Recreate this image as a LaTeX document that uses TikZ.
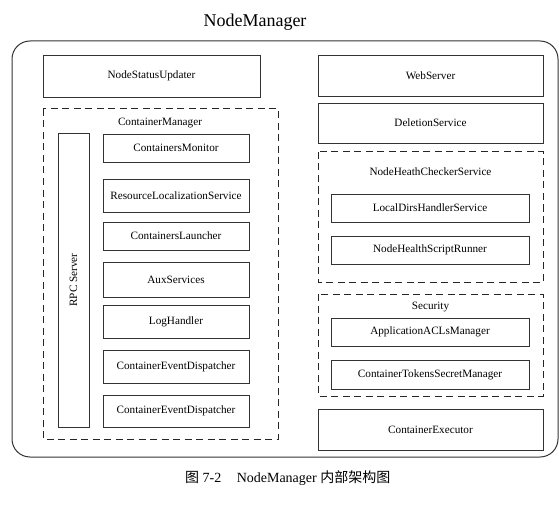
\documentclass[tikz,border=0pt]{standalone}
\usepackage{fontspec}
\setmainfont{Liberation Serif}
\newfontfamily\cjk{Noto Sans CJK SC}
\begin{document}
\begin{tikzpicture}[x=1pt,y=-1pt,
  line/.style={draw=black!80, line width=0.8pt},
  box/.style={line, rectangle, inner sep=0pt, font=\fontsize{11.2}{13}\selectfont},
  grp/.style={draw=black!85, line width=1pt, dash pattern=on 7pt off 4.5pt},
  lbl/.style={inner sep=0pt, font=\fontsize{11.2}{13}\selectfont}]
\useasboundingbox (0,0) rectangle (559,505);
% title
\node[inner sep=0pt, font=\fontsize{18}{20}\selectfont] (title) at (255,22) {NodeManager};
% outer
\draw[line, line width=1pt, rounded corners=18pt] (12,41) rectangle (558,457);
% left column
\node[box, minimum width=217pt, minimum height=42pt] (nsu) at (151.5,76) {NodeStatusUpdater};
\draw[grp] (43,109) rectangle (278,439);
\node[lbl] (cmt) at (160,123) {ContainerManager};
\node[box, minimum width=31pt, minimum height=294pt] (rpc) at (73.5,280) {};
\node[lbl, rotate=90] (rpct) at (rpc.center) {RPC Server};
\node[box, minimum width=146pt, minimum height=28pt] (cmon) at (176,148) {ContainersMonitor};
\node[box, minimum width=146pt, minimum height=33pt] (rls) at (176,195.5) {ResourceLocalizationService};
\node[box, minimum width=146pt, minimum height=28pt] (cl) at (176,236) {ContainersLauncher};
\node[box, minimum width=146pt, minimum height=35pt] (aux) at (176,279.5) {AuxServices};
\node[box, minimum width=146pt, minimum height=33pt] (lh) at (176,321.5) {LogHandler};
\node[box, minimum width=146pt, minimum height=33pt] (ced1) at (176,366.5) {ContainerEventDispatcher};
\node[box, minimum width=146pt, minimum height=32pt] (ced2) at (176,411) {ContainerEventDispatcher};
% right column
\node[box, minimum width=225pt, minimum height=41pt] (ws) at (430.5,75.5) {WebServer};
\node[box, minimum width=225pt, minimum height=40pt] (ds) at (430.5,123) {DeletionService};
\draw[grp] (318,152) rectangle (543,282);
\node[lbl] (nhcst) at (430.5,172) {NodeHeathCheckerService};
\node[box, minimum width=198pt, minimum height=28pt] (ldhs) at (430,208) {LocalDirsHandlerService};
\node[box, minimum width=198pt, minimum height=28pt] (nhsr) at (430,250) {NodeHealthScriptRunner};
\draw[grp] (318,294) rectangle (543,396);
\node[lbl] (sect) at (430.5,307) {Security};
\node[box, minimum width=198pt, minimum height=28pt] (aacl) at (430,332) {ApplicationACLsManager};
\node[box, minimum width=198pt, minimum height=29pt] (ctsm) at (430,374.5) {ContainerTokensSecretManager};
\node[box, minimum width=225pt, minimum height=41pt] (ce) at (430.5,429.5) {ContainerExecutor};
% caption
\node[inner sep=0pt, anchor=west, font=\fontsize{14}{16}\selectfont] (cap) at (185,478) {{\cjk 图} 7-2\hspace{1.1em}NodeManager {\cjk 内部架构图}};
\end{tikzpicture}
\end{document}
